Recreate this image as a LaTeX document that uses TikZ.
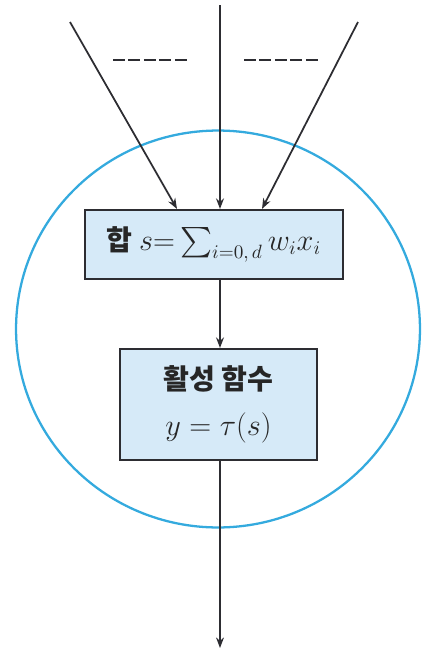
\documentclass[tikz,border=0pt]{standalone}
\usepackage{amsmath}
\usepackage{fontspec}
\usepackage{xcolor}
\usetikzlibrary{arrows.meta}
\newfontfamily\krfont{Noto Sans CJK KR}
\definecolor{ringblue}{RGB}{52,170,222}
\definecolor{boxfill}{RGB}{214,234,248}
\definecolor{edgegray}{RGB}{45,45,50}

\begin{document}
\begin{tikzpicture}[x=0.02cm, y=-0.02cm, >={Stealth[length=6pt, width=4.5pt]},
  unitbox/.style={draw=edgegray, line width=1.2pt, fill=boxfill, text=black!85,
    font=\krfont\bfseries\fontsize{16}{19}\selectfont, align=center, inner sep=0pt},
  wire/.style={edgegray, line width=1pt}]
  \useasboundingbox (0,0) rectangle (422,653);

  % --- 1. Neuron outline ---
  \draw[ringblue, line width=1.3pt] (218,329) ellipse [x radius=4.04cm, y radius=3.97cm];

  % --- 2. Sum and activation ---
  \node[unitbox, minimum width=5.16cm, minimum height=1.38cm] (sum) at (214,244.5)
    {합 $s{=}\sum_{i=0,\,d} w_i x_i$};
  \node[unitbox, minimum width=3.94cm, minimum height=2.22cm] (act) at (218.5,404.5)
    {활성 함수\\[7pt] $y = \tau(s)$};

  % --- 3. Inputs (ends) ---
  \coordinate (in1) at (70,22);
  \coordinate (in2) at (220,5);
  \coordinate (in3) at (358,22);
  \coordinate (out) at (220,648);

  % --- 4. Connectors ---
  \draw[wire, ->] (in1) -- (sum.north -| 177,0);
  \draw[wire, ->] (in2) -- (sum.north -| in2);
  \draw[wire, ->] (in3) -- (sum.north -| 262,0);
  \draw[wire, ->] (sum.south -| in2) -- (act.north -| in2);
  \draw[wire, ->] (act.south -| in2) -- (out);

  % --- 5. Omitted inputs ---
  \draw[edgegray, line width=1.4pt, dash pattern=on 6.8pt off 2pt] (113,60) -- (188,60);
  \draw[edgegray, line width=1.4pt, dash pattern=on 6.8pt off 2pt] (244,60) -- (318,60);

\end{tikzpicture}
\end{document}
